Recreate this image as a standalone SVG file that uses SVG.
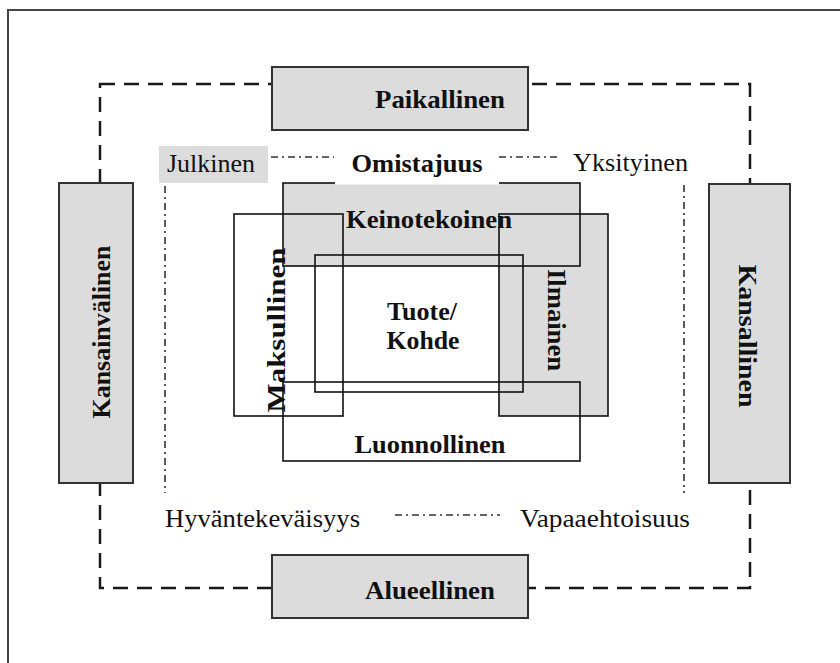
<svg xmlns="http://www.w3.org/2000/svg" width="840" height="663" viewBox="0 0 840 663">
  <style>
    .frame { fill: #ffffff; stroke: #444444; stroke-width: 2; }
    .scope { fill: none; stroke: #1a1a1a; stroke-width: 2.5; stroke-dasharray: 15 9; }
    .level { fill: #dcdcdc; stroke: #333333; stroke-width: 2; }
    .axis { fill: none; stroke: #333333; stroke-width: 1.6; stroke-dasharray: 7 4 2 4; }
    .shade { fill: #dcdcdc; stroke: none; }
    .edge { fill: none; stroke: #111111; stroke-width: 1.6; }
    .bold { font-family: "Liberation Serif", "Times New Roman", serif; font-weight: bold; font-size: 26px; fill: #111111; }
    .plain { font-family: "Liberation Serif", "Times New Roman", serif; font-size: 25px; fill: #111111; }
  </style>

  <!-- page frame (right and bottom edges fall outside the canvas) -->
  <rect class="frame" x="8" y="10" width="850" height="670"/>

  <!-- connectors: dashed geographic ring and dash-dot ownership axes -->
  <g id="connectors">
    <rect class="scope" x="100" y="84" width="650" height="504"/>
    <line class="axis" x1="271" y1="157" x2="334" y2="157"/>
    <line class="axis" x1="499" y1="157" x2="557" y2="157"/>
    <line class="axis" x1="165" y1="186" x2="165" y2="493"/>
    <line class="axis" x1="684" y1="185" x2="684" y2="493"/>
    <line class="axis" x1="395" y1="515" x2="500" y2="515"/>
  </g>

  <g id="paikallinen">
    <rect class="level" x="272" y="67" width="256" height="63"/>
    <text class="bold" x="440" y="108" text-anchor="middle" textLength="130" lengthAdjust="spacingAndGlyphs">Paikallinen</text>
  </g>
  <g id="alueellinen">
    <rect class="level" x="272" y="555" width="256" height="63"/>
    <text class="bold" x="430" y="599" text-anchor="middle" textLength="130" lengthAdjust="spacingAndGlyphs">Alueellinen</text>
  </g>
  <g id="kansainvalinen">
    <rect class="level" x="59" y="183" width="74" height="300"/>
    <text class="bold" transform="translate(110 332) rotate(-90)" x="0" y="0" text-anchor="middle" textLength="173" lengthAdjust="spacingAndGlyphs">Kansainvälinen</text>
  </g>
  <g id="kansallinen">
    <rect class="level" x="709" y="184" width="81" height="299"/>
    <text class="bold" transform="translate(739 336) rotate(90)" x="0" y="0" text-anchor="middle" textLength="143" lengthAdjust="spacingAndGlyphs">Kansallinen</text>
  </g>

  <g id="julkinen">
    <rect class="shade" x="159" y="146" width="109" height="37"/>
    <text class="plain" x="167" y="172" textLength="88" lengthAdjust="spacingAndGlyphs">Julkinen</text>
  </g>
  <g id="yksityinen">
    <text class="plain" x="573" y="171" textLength="115" lengthAdjust="spacingAndGlyphs">Yksityinen</text>
  </g>
  <g id="hyvantekevaisyys">
    <text class="plain" x="165" y="527" textLength="195" lengthAdjust="spacingAndGlyphs">Hyväntekeväisyys</text>
  </g>
  <g id="vapaaehtoisuus">
    <text class="plain" x="520" y="527" textLength="170" lengthAdjust="spacingAndGlyphs">Vapaaehtoisuus</text>
  </g>

  <!-- overlapping product-type frames: fills first, outlines on top -->
  <g id="keinotekoinen">
    <rect class="shade" x="283" y="183" width="297" height="83"/>
  </g>
  <g id="ilmainen">
    <rect class="shade" x="499" y="214" width="109" height="202"/>
  </g>
  <g id="frames-outline">
    <rect class="edge" x="283" y="183" width="297" height="83"/>
    <rect class="edge" x="499" y="214" width="109" height="202"/>
    <rect class="edge" x="234" y="214" width="109" height="202"/>
    <rect class="edge" x="315" y="255" width="208" height="137"/>
    <rect class="edge" x="283" y="382" width="297" height="79"/>
  </g>

  <g id="omistajuus">
    <rect fill="#ffffff" x="335" y="144" width="164" height="40.5"/>
    <text class="bold" x="417" y="172" text-anchor="middle" textLength="131" lengthAdjust="spacingAndGlyphs">Omistajuus</text>
  </g>

  <g id="labels">
    <text class="bold" x="429" y="228" text-anchor="middle" textLength="166" lengthAdjust="spacingAndGlyphs">Keinotekoinen</text>
    <text class="bold" transform="translate(548 320) rotate(90)" x="0" y="0" text-anchor="middle" textLength="102" lengthAdjust="spacingAndGlyphs">Ilmainen</text>
    <text class="bold" transform="translate(285 330) rotate(-90)" x="0" y="0" text-anchor="middle" textLength="165" lengthAdjust="spacingAndGlyphs">Maksullinen</text>
    <text class="bold" x="430" y="453" text-anchor="middle" textLength="151" lengthAdjust="spacingAndGlyphs">Luonnollinen</text>
  </g>

  <g id="tuote-kohde">
    <text class="bold" x="422" y="320" text-anchor="middle" textLength="70" lengthAdjust="spacingAndGlyphs">Tuote/</text>
    <text class="bold" x="423" y="349" text-anchor="middle" textLength="73" lengthAdjust="spacingAndGlyphs">Kohde</text>
  </g>
</svg>
